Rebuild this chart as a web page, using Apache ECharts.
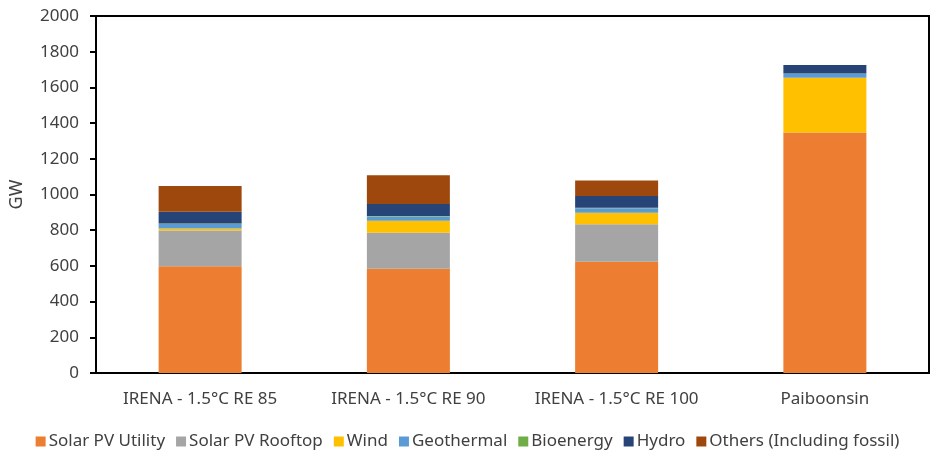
<!DOCTYPE html>
<html>
<head>
<meta charset="utf-8">
<script src="https://cdn.jsdelivr.net/npm/echarts@6/dist/echarts.min.js"></script>
<style>
  html, body { margin: 0; padding: 0; background: #fff; }
  #chart { width: 935px; height: 461px; }
</style>
</head>
<body>
<div id="chart"></div>
<script>
var categories = ['IRENA - 1.5°C RE 85', 'IRENA - 1.5°C RE 90', 'IRENA - 1.5°C RE 100', 'Paiboonsin'];

var solarUtility = [598, 584, 623, 1348];
var solarRooftop = [200, 202, 210, 0];
var wind = [12, 67, 65, 306];
var geothermal = [25, 24, 25, 22];
var bioenergy = [3, 3, 3, 2];
var hydro = [65, 67, 65, 47];
var others = [145, 161, 88, 0];

var seriesNames = ['Solar PV Utility', 'Solar PV Rooftop', 'Wind', 'Geothermal', 'Bioenergy', 'Hydro', 'Others (Including fossil)'];
var seriesValues = [solarUtility, solarRooftop, wind, geothermal, bioenergy, hydro, others];
var colors = ['#ED7D31', '#A5A5A5', '#FFC000', '#5B9BD5', '#70AD47', '#264478', '#9E480E'];

var font = 'Noto Sans';
var textColor = '#404040';

var series = [];
for (var i = 0; i < seriesNames.length; i++) {
	series.push({
		name: seriesNames[i],
		type: 'bar',
		stack: 'total',
		barWidth: 83,
		data: seriesValues[i],
		itemStyle: { color: colors[i] }
	});
}

var myChart = echarts.init(document.getElementById('chart'), null, { renderer: 'canvas' });

var option = {
	animation: false,
	color: colors,
	grid: {
		left: 90,
		right: 6,
		top: 16,
		bottom: 88,
		show: true,
		borderColor: '#000',
		borderWidth: 2,
		containLabel: false
	},
	legend: {
		bottom: 6,
		left: 'center',
		itemWidth: 10,
		itemHeight: 10,
		itemGap: 11,
		icon: 'rect',
		textStyle: { fontFamily: font, fontSize: 17, color: textColor, padding: [0, 0, 0, -2] },
		data: seriesNames
	},
	xAxis: {
		type: 'category',
		data: categories,
		axisLine: { lineStyle: { color: '#000', width: 2 } },
		axisTick: { show: false },
		axisLabel: { interval: 0, hideOverlap: false, fontFamily: font, fontSize: 17, color: textColor, margin: 18 }
	},
	yAxis: {
		type: 'value',
		min: 0,
		max: 2000,
		interval: 200,
		name: 'GW',
		nameLocation: 'middle',
		nameGap: 70,
		nameTextStyle: { fontFamily: font, fontSize: 18, color: textColor },
		axisLine: { show: true, lineStyle: { color: '#000', width: 2 } },
		axisTick: { show: true, length: 6, lineStyle: { color: '#000', width: 2 } },
		axisLabel: {
			fontFamily: font, fontSize: 17, color: textColor, margin: 17,
			formatter: function (v) { return String(v); }
		},
		splitLine: { show: false }
	},
	series: series
};

myChart.setOption(option);
</script>
</body>
</html>
